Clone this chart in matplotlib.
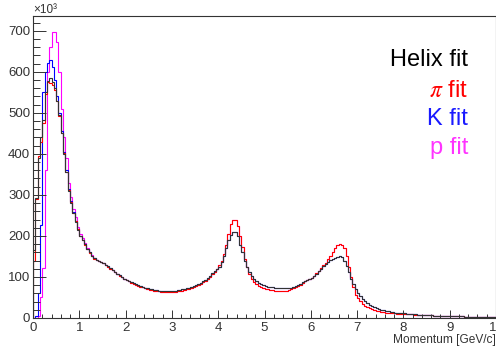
import numpy as np
import matplotlib
matplotlib.use("Agg")
import matplotlib.pyplot as plt
from matplotlib.ticker import MultipleLocator

plt.rcParams['font.family'] = ['Liberation Sans', 'DejaVu Sans']
plt.rcParams['mathtext.fontset'] = 'stix'

# momentum histogram, 200 bins from 0 to 10 GeV/c, counts in units of 10^3
p_min, p_max, n_bins = 0.0, 10.0, 200

helix = [
    165, 293, 390, 440, 482, 550, 578, 585, 576, 560, 530, 495, 450, 400, 355, 310, 280, 255, 235, 215,
    200, 190, 180, 168, 160, 152, 146, 142, 139, 137, 134, 130, 126, 121, 117, 112, 108, 104, 100, 96,
    93, 90, 87, 85, 82, 80, 78, 76, 74, 72.5, 71, 70, 69, 68, 67, 66.5, 66, 66, 66, 66,
    66.5, 67, 67.5, 68.5, 69.5, 71, 72.5, 74, 76, 78, 80.5, 83, 86, 89.5, 93.5, 98, 103, 109, 114, 120,
    125, 137, 150, 170, 190, 203, 210, 209, 200, 178, 160, 140, 125, 112, 103, 95, 90, 86, 83, 80,
    78, 76.5, 75.5, 74.5, 73.5, 72.5, 72, 72, 72, 72.5, 73, 74, 76, 79, 81, 84, 87, 90, 93, 95,
    98, 102, 108, 114, 120, 126, 132, 137, 141, 144, 147, 149, 150, 148, 140, 127, 112, 96, 82, 70,
    62, 54, 47, 41, 36, 32, 29, 26, 24, 22, 20, 18.5, 17, 16, 15, 14, 13, 12.5, 12, 11.5,
    11, 10.5, 10, 9.5, 9, 8.6, 8.2, 7.8, 7.5, 7.2, 6.9, 6.6, 6.3, 6.0, 5.8, 5.5, 5.3, 5.1, 4.9, 4.7,
    4.5, 4.3, 4.1, 4.0, 3.8, 3.7, 3.5, 3.4, 3.3, 3.2, 3.1, 3.0, 2.9, 2.8, 2.7, 2.6, 2.5, 2.4, 2.3, 2.2,
]

pion = [
    140, 290, 395, 430, 475, 545, 575, 573, 568, 555, 528, 492, 452, 402, 356, 312, 282, 257, 236, 216,
    199, 189, 179, 167, 159, 151, 145, 141, 138, 136, 133, 129, 125, 120, 116, 111, 107, 103, 99, 95,
    92, 89, 86, 83.5, 81, 78.5, 76.5, 74.5, 72.5, 70.5, 69, 68, 67, 66, 65, 64.5, 64, 64, 64, 64,
    64, 64.5, 65, 66, 67, 68.5, 70, 71.5, 73.5, 75.5, 78, 80.5, 83.5, 87, 91, 96, 101, 107, 113, 120,
    128, 140, 155, 178, 205, 228, 239, 238, 225, 200, 172, 145, 124, 108, 96, 88, 82, 78, 75, 73,
    71, 69.5, 68.5, 67.5, 67, 66.5, 66, 66, 66, 66.5, 68, 70, 72, 75, 78, 81, 85, 89, 92, 95,
    98, 103, 109, 115, 121, 128, 135, 143, 152, 161, 170, 177, 180, 179, 170, 150, 125, 100, 75, 57,
    48, 41, 35, 30, 26.5, 23.5, 21, 19, 17.5, 16, 15, 14, 13.3, 12.7, 12.2, 11.7, 11.2, 10.8, 10.4, 10,
    9.7, 9.3, 9.0, 8.7, 8.4, 8.1, 7.8, 7.5, 7.2, 7.0, 6.7, 6.4, 6.2, 6.0, 5.7, 5.5, 5.3, 5.1, 4.9, 4.7,
    4.5, 4.3, 4.1, 4.0, 3.8, 3.7, 3.5, 3.4, 3.3, 3.2, 3.1, 3.0, 2.9, 2.8, 2.7, 2.6, 2.5, 2.4, 2.3, 2.2,
]

kaon = [
    0, 5, 60, 227, 550, 600, 622, 628, 612, 580, 540, 500, 455, 405, 360, 315, 284, 258, 237, 217,
    201, 191, 181, 169, 160, 152, 146, 142, 139, 137, 134, 130, 126, 121, 117, 112, 108, 104, 100, 96,
    93, 90, 87, 85, 82, 80, 78, 76, 74, 72.5, 71, 70, 69, 68, 67, 66.5, 66, 66, 66, 66,
    66.5, 67, 67.5, 68.5, 69.5, 71, 72.5, 74, 76, 78, 80.5, 83, 86, 89.5, 93.5, 98, 103, 109, 114, 120,
    125, 137, 150, 170, 190, 203, 210, 209, 200, 178, 160, 140, 125, 112, 103, 95, 90, 86, 83, 80,
    78, 76.5, 75.5, 74.5, 73.5, 72.5, 72, 72, 72, 72.5, 73, 74, 76, 79, 81, 84, 87, 90, 93, 95,
    98, 102, 108, 114, 120, 126, 132, 137, 141, 144, 147, 149, 150, 148, 140, 127, 112, 96, 82, 70,
    62, 54, 47, 41, 36, 32, 29, 26, 24, 22, 20, 18.5, 17, 16, 15, 14, 13, 12.5, 12, 11.5,
    11, 10.5, 10, 9.5, 9, 8.6, 8.2, 7.8, 7.5, 7.2, 6.9, 6.6, 6.3, 6.0, 5.8, 5.5, 5.3, 5.1, 4.9, 4.7,
    4.5, 4.3, 4.1, 4.0, 3.8, 3.7, 3.5, 3.4, 3.3, 3.2, 3.1, 3.0, 2.9, 2.8, 2.7, 2.6, 2.5, 2.4, 2.3, 2.2,
]

proton = [
    0, 0, 5, 50, 122, 360, 600, 660, 698, 698, 672, 600, 510, 440, 390, 330, 295, 265, 245, 222,
    205, 194, 183, 171, 162, 154, 147, 142, 139, 137, 133, 129, 125, 120, 116, 111, 107, 103, 99, 95,
    92, 89, 86, 83.5, 81, 78.5, 76.5, 74.5, 72.5, 70.5, 69, 68, 67, 66, 65, 64.5, 64, 64, 64, 64,
    64, 64.5, 65, 66, 67, 68.5, 70, 71.5, 73.5, 75.5, 78, 80.5, 83.5, 87, 91, 96, 101, 107, 113, 120,
    128, 140, 155, 178, 205, 228, 239, 238, 225, 200, 172, 145, 124, 108, 96, 88, 82, 78, 75, 73,
    71, 69.5, 68.5, 67.5, 67, 66.5, 66, 66, 66, 66.5, 68, 70, 72, 75, 78, 81, 85, 89, 92, 95,
    98, 103, 109, 115, 121, 128, 135, 143, 152, 161, 170, 177, 180, 179, 170, 150, 125, 100, 75, 57,
    48, 41, 35, 30, 26.5, 23.5, 21, 19, 17.5, 16, 15, 14, 13.3, 12.7, 12.2, 11.7, 11.2, 10.8, 10.4, 10,
    9.7, 9.3, 9.0, 8.7, 8.4, 8.1, 7.8, 7.5, 7.2, 7.0, 6.7, 6.4, 6.2, 6.0, 5.7, 5.5, 5.3, 5.1, 4.9, 4.7,
    4.5, 4.3, 4.1, 4.0, 3.8, 3.7, 3.5, 3.4, 3.3, 3.2, 3.1, 3.0, 2.9, 2.8, 2.7, 2.6, 2.5, 2.4, 2.3, 2.2,
]

edges = np.linspace(p_min, p_max, n_bins + 1)

fig = plt.figure(figsize=(4.96, 3.49), dpi=100)
ax = fig.add_axes([33 / 496, 1 - 318 / 349, 1 - 33 / 496, (318 - 16) / 349])

# draw order: black on top
ax.stairs(proton, edges, baseline=0, color='#ff00ff', lw=0.8)
ax.stairs(kaon, edges, baseline=0, color='#0000ff', lw=0.8)
ax.stairs(pion, edges, baseline=0, color='#ff0000', lw=0.8)
ax.stairs(helix, edges, baseline=0, color='#333333', lw=0.8)

ax.set_xlim(p_min, p_max)
ax.set_ylim(0, 736)

ax.xaxis.set_major_locator(MultipleLocator(1))
ax.xaxis.set_minor_locator(MultipleLocator(0.2))
ax.yaxis.set_major_locator(MultipleLocator(100))
ax.yaxis.set_minor_locator(MultipleLocator(20))

ax.tick_params(axis='both', which='both', direction='in', colors='#333333', labelsize=9.5)
ax.tick_params(axis='y', which='major', length=9.5, width=0.7, pad=2)
ax.tick_params(axis='y', which='minor', length=4.8, width=0.7)
ax.tick_params(axis='x', which='major', length=5.8, width=0.7, pad=3)
ax.tick_params(axis='x', which='minor', length=2.9, width=0.7)
for s in ax.spines.values():
    s.set_linewidth(0.8)
    s.set_color('#333333')

fig.text(33 / 496, 1 - 10 / 349, '×10³', fontsize=8.5, color='#333333', va='center', ha='left')
fig.text(496 / 496, 1 - 340 / 349, 'Momentum [GeV/c]', fontsize=8.6, color='#333333',
         va='center', ha='right')

# text legend
lx = 468 / 496
fig.text(lx, 1 - 60 / 349, 'Helix fit', fontsize=17, color='black', ha='right', va='center')
fig.text(lx, 1 - 91 / 349, r'$\pi$ fit', fontsize=17, color='#ff0000', ha='right', va='center')
fig.text(lx, 1 - 119 / 349, 'K fit', fontsize=17, color='#1a1aff', ha='right', va='center')
fig.text(lx, 1 - 148 / 349, 'p fit', fontsize=17, color='#ff33ff', ha='right', va='center')

fig.savefig('out.png', dpi=100)
